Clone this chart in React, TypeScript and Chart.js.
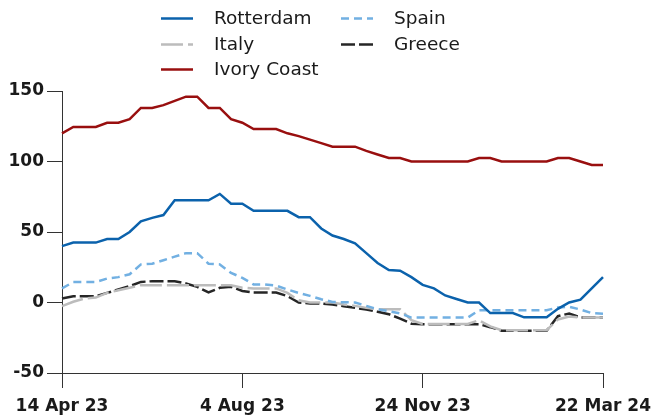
import React, { useEffect, useRef } from "react";
import { Chart, registerables } from "chart.js";

Chart.register(...registerables);

const categories = [
  "14 Apr 23", "21 Apr 23", "28 Apr 23", "5 May 23", "12 May 23", "19 May 23", "26 May 23",
  "2 Jun 23", "9 Jun 23", "16 Jun 23", "23 Jun 23", "30 Jun 23", "7 Jul 23", "14 Jul 23",
  "21 Jul 23", "28 Jul 23", "4 Aug 23", "11 Aug 23", "18 Aug 23", "25 Aug 23", "1 Sep 23",
  "8 Sep 23", "15 Sep 23", "22 Sep 23", "29 Sep 23", "6 Oct 23", "13 Oct 23", "20 Oct 23",
  "27 Oct 23", "3 Nov 23", "10 Nov 23", "17 Nov 23", "24 Nov 23", "1 Dec 23", "8 Dec 23",
  "15 Dec 23", "22 Dec 23", "5 Jan 24", "12 Jan 24", "19 Jan 24", "26 Jan 24", "2 Feb 24",
  "9 Feb 24", "16 Feb 24", "23 Feb 24", "1 Mar 24", "8 Mar 24", "15 Mar 24", "22 Mar 24",
];

const tickLabels = ["14 Apr 23", "4 Aug 23", "24 Nov 23", "22 Mar 24"];

const rotterdam = [
  40, 42.5, 42.5, 42.5, 45, 45, 50, 57.5, 60, 62, 72.5, 72.5, 72.5, 72.5, 77, 70, 70, 65, 65, 65,
  65, 60.5, 60.5, 52.5, 47.5, 45, 42, 35, 28, 23, 22.5, 18, 12.5, 10, 5, 2.5, 0, 0, -7.5, -7.5,
  -7.5, -10.5, -10.5, -10.5, -4.5, 0, 2, 10, 18,
];

const spain = [
  10, 14.5, 14.5, 14.5, 17, 18, 20, 27, 27.5, 30, 32.5, 35, 35, 27.5, 27, 21, 17.5, 12.8, 12.8, 12,
  9.2, 6.8, 4.7, 2.3, 0.4, 0.2, 0, -2.4, -4.8, -6.2, -7.8, -10.7, -10.7, -10.7, -10.7, -10.7, -10.7,
  -5.5, -5.5, -5.5, -5.5, -5.5, -5.5, -5.5, -3.5, -3, -5, -7.5, -8,
];

const italy = [
  -2.6, 0.5, 2.8, 3.5, 6.8, 8.7, 10.4, 12.3, 12.3, 12.3, 12.3, 12.3, 12.3, 12.3, 12.3, 12.3, 10.5,
  10, 10, 10, 6.8, 1.6, 0, 0, 0, -1.4, -2.4, -3.8, -4.8, -4.8, -4.8, -12.6, -15.2, -15.2, -15.2,
  -15.2, -15.2, -12.6, -17, -19.6, -19.6, -19.6, -19.6, -19.6, -12, -10, -10.6, -10.6, -10.6,
];

const greece = [
  2.8, 4.5, 4.5, 4.5, 6.8, 9.2, 11.6, 14.6, 15.1, 15.1, 15.1, 13.5, 11.1, 7.1, 10.4, 11.1, 8.2,
  7.1, 7.1, 7.1, 4.5, 0, -0.7, -0.7, -1.4, -2.6, -3.8, -5, -6.6, -8.3, -11.4, -15, -15.4, -15.4,
  -15.4, -15.4, -15.4, -15.4, -17.5, -20, -20, -20, -20, -20, -9.7, -7.8, -10.6, -10.6, -10.6,
];

const ivoryCoast = [
  120, 124.5, 124.5, 124.5, 127.5, 127.5, 130, 138, 138, 140, 143, 146, 146, 138, 138, 130, 127.5,
  123, 123, 123, 120, 118, 115.5, 113, 110.5, 110.5, 110.5, 107.5, 105, 102.5, 102.5, 100, 100,
  100, 100, 100, 100, 102.5, 102.5, 100, 100, 100, 100, 100, 102.5, 102.5, 100, 97.5, 97.5,
];

const seriesNames = ["Rotterdam", "Spain", "Italy", "Greece", "Ivory Coast"];

const TICK_FONT = { family: "'DejaVu Sans', sans-serif", size: 17, weight: "bold" as const };
const LEGEND_FONT = "18.5px 'DejaVu Sans', sans-serif";
const AXIS_COLOR = "#333333";
const TEXT_COLOR = "#1a1a1a";

const legendPlugin = {
  id: "gridLegend",
  afterDraw(chart: any) {
    const ctx = chart.ctx;
    const cols = [161, 341];
    const rows = [18.5, 44.5, 69.5];
    ctx.save();
    chart.data.datasets.forEach((ds: any, i: number) => {
      const x = cols[i % 2];
      const y = rows[Math.floor(i / 2)];
      ctx.beginPath();
      ctx.strokeStyle = ds.borderColor;
      ctx.lineWidth = ds.borderWidth;
      ctx.setLineDash(ds.borderDash || []);
      ctx.moveTo(x, y);
      ctx.lineTo(x + 32, y);
      ctx.stroke();
      ctx.setLineDash([]);
      ctx.fillStyle = TEXT_COLOR;
      ctx.font = LEGEND_FONT;
      ctx.textBaseline = "middle";
      ctx.textAlign = "left";
      ctx.fillText(ds.label, x + 53, y + 1);
    });
    ctx.restore();
  },
};

export default function App() {
  const ref = useRef<HTMLCanvasElement | null>(null);

  useEffect(() => {
    if (!ref.current) return;
    const mk = (label: string, data: number[], color: string, dash: number[]) => ({
      label,
      data,
      borderColor: color,
      backgroundColor: color,
      borderWidth: 2.5,
      borderDash: dash,
      pointRadius: 0,
      pointHoverRadius: 0,
      tension: 0,
      fill: false,
    });
    const chart = new Chart(ref.current, {
      type: "line",
      data: {
        labels: categories,
        datasets: [
          mk(seriesNames[0], rotterdam, "#0b62ac", []),
          mk(seriesNames[1], spain, "#72b0e2", [8, 5]),
          mk(seriesNames[2], italy, "#bcbcbc", [22, 5]),
          mk(seriesNames[3], greece, "#262626", [14, 4]),
          mk(seriesNames[4], ivoryCoast, "#990f0f", []),
        ],
      },
      options: {
        responsive: false,
        animation: false,
        events: [],
        layout: { padding: { top: 91, right: 52, left: 0, bottom: 0 } },
        plugins: {
          legend: { display: false },
          tooltip: { enabled: false },
          title: { display: false },
        },
        scales: {
          x: {
            type: "category",
            offset: false,
            afterFit: (s: any) => {
              s.height = 44;
              s.paddingLeft = 0;
              s.paddingRight = 0;
            },
            grid: {
              display: true,
              drawOnChartArea: false,
              drawTicks: true,
              tickLength: 15,
              color: AXIS_COLOR,
              lineWidth: 1,
            },
            border: { display: true, color: AXIS_COLOR, width: 1 },
            ticks: {
              autoSkip: false,
              maxRotation: 0,
              minRotation: 0,
              padding: 8,
              color: TEXT_COLOR,
              font: TICK_FONT,
              callback: (_v: any, i: number) =>
                tickLabels.includes(categories[i]) ? categories[i] : null,
            },
          },
          y: {
            min: -50,
            max: 150,
            afterFit: (s: any) => {
              s.width = 62;
              s.paddingTop = 0;
              s.paddingBottom = 0;
            },
            grid: {
              display: true,
              drawOnChartArea: false,
              drawTicks: true,
              tickLength: 15,
              color: AXIS_COLOR,
              lineWidth: 1,
            },
            border: { display: true, color: AXIS_COLOR, width: 1 },
            ticks: {
              stepSize: 50,
              padding: 3,
              color: TEXT_COLOR,
              font: TICK_FONT,
            },
          },
        },
      },
      plugins: [legendPlugin],
    } as any);
    return () => chart.destroy();
  }, []);

  return (
    <div style={{ position: "fixed", left: 0, top: 0, width: 655, height: 417, background: "#fff" }}>
      <canvas ref={ref} width={655} height={417} style={{ display: "block" }} />
    </div>
  );
}
